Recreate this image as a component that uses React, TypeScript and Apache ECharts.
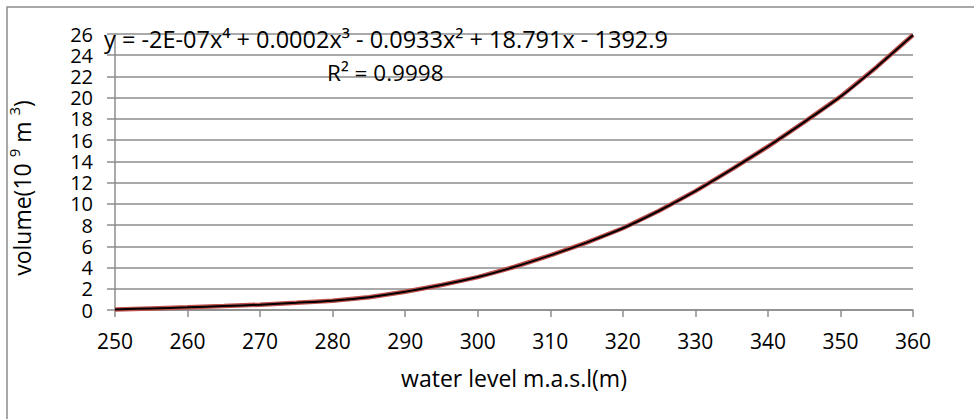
import React, { useEffect, useRef } from "react";
import * as echarts from "echarts";

const waterLevel = [250, 255, 260, 265, 270, 275, 280, 285, 290, 295, 300, 305, 310, 315, 320, 325, 330, 335, 340, 345, 350, 355, 360];
const volume = [0.05, 0.15, 0.25, 0.37, 0.5, 0.68, 0.88, 1.2, 1.72, 2.35, 3.1, 4.05, 5.15, 6.35, 7.7, 9.35, 11.2, 13.25, 15.4, 17.7, 20.1, 22.9, 25.9];
const xTicks = { min: 250, max: 360, interval: 10 };
const yTicks = { min: 0, max: 26, interval: 2 };
const equationText = "y = -2E-07x⁴ + 0.0002x³ - 0.0933x² + 18.791x - 1392.9";
const r2Text = "R² = 0.9998";
const xTitle = "water level m.a.s.l(m)";
const yTitleParts = ["volume(10 ", "9", " m ", "3", ")"];

const FONT = "'Open Sans', 'Noto Sans', sans-serif";
const GRID = "#8c8c8c";

export default function App() {
  const ref = useRef<HTMLDivElement>(null);
  useEffect(() => {
    document.body.style.margin = "0";
    if (!ref.current) return;
    const chart = echarts.init(ref.current, null, { renderer: "svg" });
    const pts = waterLevel.map((x, i) => [x, volume[i]]);
    const yTitleRich =
      `{n|${yTitleParts[0]}}{s|${yTitleParts[1]}}{n|${yTitleParts[2]}}{s|${yTitleParts[3]}}{n|${yTitleParts[4]}}`;
    chart.setOption({
      animation: false,
      backgroundColor: "#ffffff",
      textStyle: { fontFamily: FONT },
      grid: { left: 115, right: 61, top: 34, bottom: 109, containLabel: false },
      xAxis: {
        type: "value",
        min: xTicks.min,
        max: xTicks.max,
        interval: xTicks.interval,
        name: xTitle,
        nameLocation: "middle",
        nameGap: 56,
        nameTextStyle: { color: "#000", fontSize: 23, fontFamily: FONT },
        axisLine: { show: true, lineStyle: { color: GRID, width: 1.5 } },
        axisTick: { show: true, length: 7, lineStyle: { color: GRID, width: 1.5 } },
        axisLabel: { color: "#000", fontSize: 21, fontFamily: FONT, margin: 20 },
        splitLine: { show: false },
      },
      yAxis: {
        type: "value",
        min: yTicks.min,
        max: yTicks.max,
        interval: yTicks.interval,
        axisLine: { show: true, lineStyle: { color: GRID, width: 1.5 } },
        axisTick: { show: true, length: 8, lineStyle: { color: GRID, width: 1.5 } },
        axisLabel: { color: "#000", fontSize: 20, fontFamily: FONT, margin: 22, lineHeight: 20 },
        splitLine: { show: true, lineStyle: { color: GRID, width: 1.5 } },
      },
      series: [
        {
          name: "volume",
          type: "line",
          data: pts,
          showSymbol: false,
          smooth: false,
          lineStyle: { color: "#C0504D", width: 4.5 },
          z: 2,
        },
        {
          name: "Poly. (volume)",
          type: "line",
          data: pts,
          showSymbol: false,
          smooth: 0.3,
          lineStyle: { color: "#000000", width: 2 },
          z: 3,
        },
      ],
      graphic: [
        {
          type: "rect",
          shape: { x: 7, y: 7, width: 1400, height: 900 },
          style: { fill: "none", stroke: GRID, lineWidth: 1.5 },
          silent: true,
          z: -10,
        },
        {
          type: "text",
          x: 104,
          y: 39,
          style: { text: equationText, fill: "#000", font: `23.5px ${FONT}`, verticalAlign: "middle" },
          z: 10,
        },
        {
          type: "text",
          x: 327,
          y: 72,
          style: { text: r2Text, fill: "#000", font: `22.5px ${FONT}`, verticalAlign: "middle" },
          z: 10,
        },
        {
          type: "text",
          x: 20,
          y: 188,
          rotation: Math.PI / 2,
          style: {
            text: yTitleRich,
            fill: "#000",
            align: "center",
            verticalAlign: "middle",
            rich: {
              n: { fontSize: 23, fontFamily: FONT, fill: "#000", lineHeight: 27, verticalAlign: "bottom" },
              s: { fontSize: 15, fontFamily: FONT, fill: "#000", lineHeight: 27, verticalAlign: "top" },
            },
          },
          z: 10,
        },
      ],
    });
    return () => chart.dispose();
  }, []);
  return <div ref={ref} style={{ width: 974, height: 419 }} />;
}
